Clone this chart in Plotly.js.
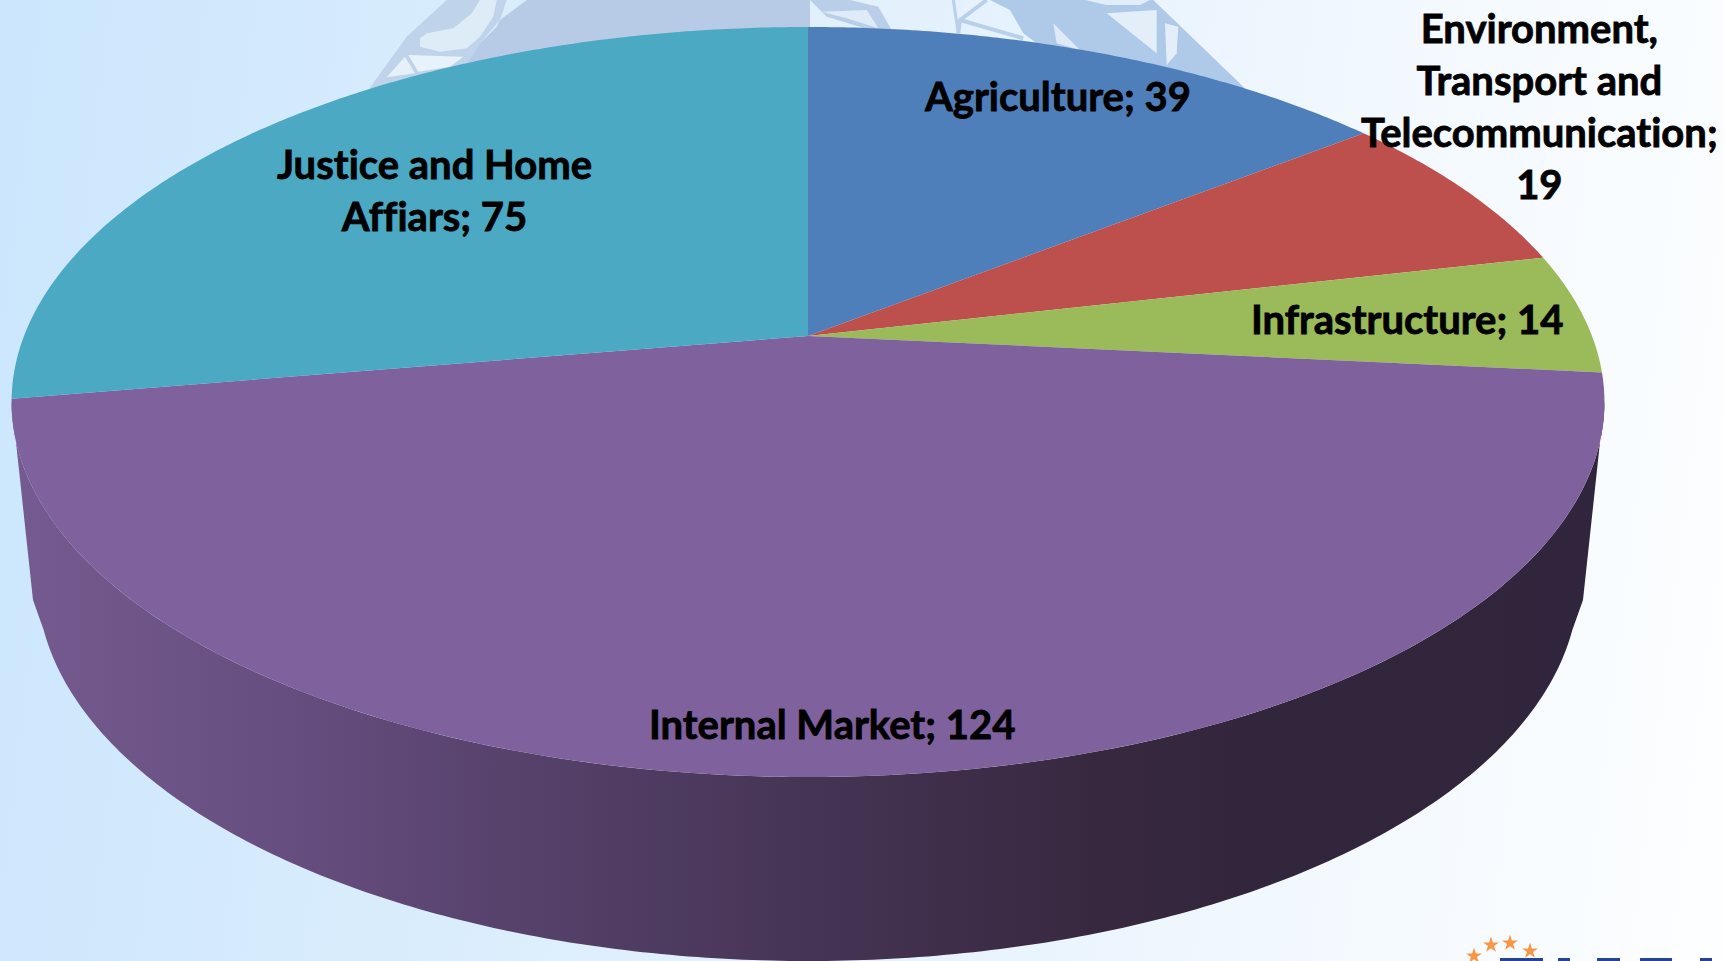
<!DOCTYPE html>
<html>
<head>
<meta charset="utf-8">
<script src="https://cdn.plot.ly/plotly-3.0.1.min.js"></script>
<style>
html,body{margin:0;padding:0;width:1724px;height:961px;overflow:hidden;
background:linear-gradient(97deg,#cbe6fd 0%,#d8ecfc 25%,#e6f2fd 55%,#f3f9fe 78%,#fdfeff 100%);}
#chart{width:1724px;height:961px;}
.annotation-text{font-variant-ligatures:none;font-feature-settings:"liga" 0,"dlig" 0;stroke:#000;stroke-width:0.8px;}
</style>
</head>
<body>
<div id="chart"></div>
<script>
// Data
var categories = ["Agriculture", "Environment, Transport and Telecommunication", "Infrastructure", "Internal Market", "Justice and Home Affiars"];
var values = [39, 19, 14, 124, 75];
var colors = ["#4f7fbb", "#bd4f4c", "#9bba59", "#7f619d", "#4ba9c4"];
var labelLines = [
  ["Agriculture; 39"],
  ["Environment,", "Transport and", "Telecommunication;", "19"],
  ["Infrastructure; 14"],
  ["Internal Market; 124"],
  ["Justice and Home", "Affiars; 75"]
];
var labelX = [1057, 1539, 1407, 832, 434];
var labelY = [96, 106, 319, 724, 190];

// Projection of the tilted pie on the picture
var apexX = 808, apexY = 336, scaleX = 784, scaleY = 363.4, persp = 0.176;
function project(deg) {
  var r = deg * Math.PI / 180, X = Math.sin(r), Y = Math.cos(r), w = 1 + persp * Y;
  return [apexX + scaleX * X / w, apexY - scaleY * Y / w];
}
var total = values.reduce(function (a, b) { return a + b; }, 0);

var traces = [];

// Rim: front of the top face, closed along the lower outline
var rimCx = 808, rimCy = 580, rimA = 771, rimB = 381;
var rimX = [], rimY = [];
var d, p;
for (d = 100; d <= 260.5; d += 1) { p = project(d); rimX.push(p[0]); rimY.push(p[1]); }
rimX.push(33); rimY.push(600);
var s0 = Math.asin(50 / rimB);
for (var a = Math.PI - s0; a >= s0 - 0.0001; a -= (Math.PI - 2 * s0) / 240) {
  rimX.push(rimCx + rimA * Math.cos(a));
  rimY.push(rimCy + rimB * Math.sin(a));
}
rimX.push(1583); rimY.push(600);
traces.push({
  type: "scatter", mode: "none", x: rimX, y: rimY, fill: "toself",
  fillgradient: { type: "horizontal", colorscale: [
    [0, "#755b8f"], [0.18, "#664d7f"], [0.31, "#57426c"], [0.5, "#463455"],
    [0.68, "#38283f"], [0.78, "#32263c"], [1, "#31253d"]
  ]},
  hoverinfo: "skip", showlegend: false
});

// Top face sectors, clockwise from 12 o'clock
var cum = 0;
values.forEach(function (v, i) {
  var start = cum / total * 360, end = (cum + v) / total * 360;
  var xs = [apexX], ys = [apexY];
  var n = Math.ceil(end - start) * 2;
  for (var k = 0; k <= n; k++) {
    var q = project(start + (end - start) * k / n);
    xs.push(q[0]); ys.push(q[1]);
  }
  traces.push({
    type: "scatter", mode: "none", x: xs, y: ys, fill: "toself", fillcolor: colors[i],
    name: categories[i], text: categories[i] + ": " + v, hoverinfo: "text", hoveron: "fills", showlegend: false
  });
  cum += v;
});

// Logo stars in the corner of the slide
var starX = [1474, 1491, 1510, 1530], starY = [956, 945, 943, 951];
traces.push({
  type: "scatter", mode: "markers", x: starX, y: starY,
  marker: { symbol: "star", size: 12, color: "#f79646" }, hoverinfo: "skip", showlegend: false
});

var annotations = labelLines.map(function (lines, i) {
  return {
    x: labelX[i], y: labelY[i], xref: "x", yref: "y", showarrow: false,
    text: lines.join("<br>"), align: "center", xanchor: "center", yanchor: "middle",
    font: { family: "Lato, Carlito, sans-serif", size: 40, color: "#000000", weight: 700 }
  };
});

function poly(pts, color, ox) {
  var s = pts.map(function (q) { return (ox + q[0] / 3).toFixed(1) + "," + (q[1] / 3).toFixed(1); });
  return { type: "path", layer: "below", line: { width: 0 }, fillcolor: color, path: "M" + s.join("L") + "Z" };
}
function stroke(pts, color, w, ox) {
  var s = pts.map(function (q) { return (ox + q[0] / 3).toFixed(1) + "," + (q[1] / 3).toFixed(1); });
  return { type: "path", layer: "below", line: { width: w, color: color }, path: "M" + s.join("L") };
}
function bar(x0, x1) {
  return { type: "rect", layer: "below", line: { width: 0 }, fillcolor: "#25438f", x0: x0, x1: x1, y0: 958, y1: 965 };
}
var shapes = [
  // watermark emblem behind the pie, left part
  poly([[85, 270], [200, 110], [320, 0], [405, 0], [500, 0], [480, 60], [420, 130], [380, 190], [150, 250]], "#bfd3ea", 340),
  poly([[240, 115], [260, 100], [340, 85], [395, 40], [420, 0], [470, 0], [460, 50], [420, 110], [380, 145], [300, 155], [240, 140]], "#deecf7", 340),
  poly([[140, 232], [195, 170], [225, 220]], "#e6f0f9", 340),
  poly([[235, 215], [205, 165], [370, 170], [330, 200]], "#e8f2fa", 340),
  poly([[380, 190], [420, 130], [470, 80], [480, 60], [560, 0], [1410, 0], [1410, 120], [900, 120]], "#b8cbe6", 340),
  // right part
  poly([[60, 0], [180, 0], [265, 20], [305, 90], [240, 90], [110, 50]], "#b9cee8", 790),
  poly([[95, 35], [230, 30], [265, 85], [170, 55]], "#dfebf6", 790),
  stroke([[590, 0], [510, 60], [505, 100]], "#b8d0ea", 4, 790),
  stroke([[490, 0], [505, 100]], "#b8d0ea", 3, 790),
  stroke([[510, 60], [700, 115]], "#b8d0ea", 4, 790),
  poly([[525, 0], [570, 0], [515, 40]], "#e9f2fb", 790),
  poly([[600, 0], [880, 0], [1090, 0], [1370, 270], [1100, 200], [880, 150], [740, 130], [700, 100], [660, 30]], "#afcae8", 790),
  poly([[790, 70], [870, 150], [800, 130]], "#dfeaf6", 790),
  poly([[950, 40], [1100, 30], [1100, 160]], "#e3eef8", 790),
  poly([[1125, 70], [1165, 80], [1160, 160], [1130, 195]], "#e3eef8", 790),
  poly([[885, 0], [1080, 0], [1050, 15], [950, 15]], "#e1edf8", 790),
  // logo lettering cut by the bottom edge
  bar(1500, 1543), bar(1558, 1570), bar(1597, 1620), bar(1640, 1672), bar(1700, 1712)
];

var axis = { visible: false, fixedrange: true, showgrid: false, zeroline: false };
var layout = {
  width: 1724, height: 961,
  margin: { l: 0, r: 0, t: 0, b: 0 },
  paper_bgcolor: "rgba(0,0,0,0)", plot_bgcolor: "rgba(0,0,0,0)",
  xaxis: Object.assign({ range: [0, 1724] }, axis),
  yaxis: Object.assign({ range: [961, 0] }, axis),
  showlegend: false, annotations: annotations, shapes: shapes
};
Plotly.newPlot("chart", traces, layout, { displayModeBar: false });
</script>
</body>
</html>
